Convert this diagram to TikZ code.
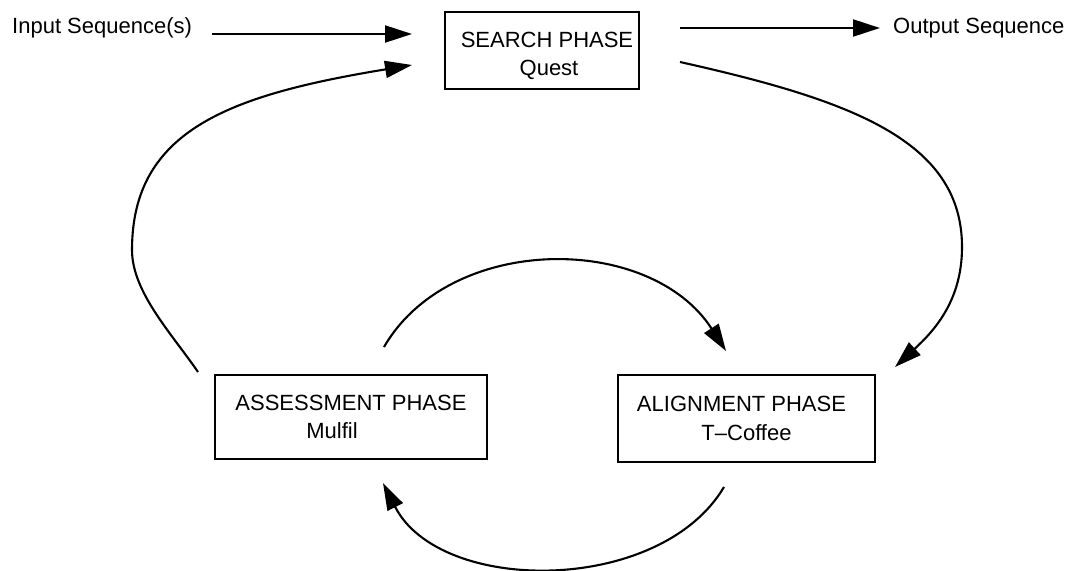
\documentclass[tikz,border=0pt]{standalone}
\usepackage{fontspec}
\setmainfont{Liberation Sans}
\usetikzlibrary{arrows.meta}
\tikzset{
  phasebox/.style={draw, line width=1.8pt, align=center, inner sep=0pt, font=\fontsize{22}{28.5}\selectfont},
  lbl/.style={font=\fontsize{22}{28}\selectfont, inner sep=0pt},
  conn/.style={line width=2.1pt, -{Triangle[length=27pt,width=17pt]}}
}
\begin{document}
\begin{tikzpicture}[x=1pt,y=-1pt]
\useasboundingbox (0,0) rectangle (1073,570);
% boxes
\node[phasebox, minimum width=194pt, minimum height=77pt] (search) at (542,50.5) {\rule{0pt}{26pt}\hspace*{10pt}SEARCH PHASE\\\hspace*{14pt}Quest};
\node[phasebox, minimum width=272pt, minimum height=84pt] (assess) at (351,417) {ASSESSMENT PHASE\\Mulfil\hspace*{38pt}};
\node[phasebox, minimum width=257pt, minimum height=87pt] (align) at (746.5,418.5) {ALIGNMENT PHASE\hspace*{10pt}\\T--Coffee};
% labels
\node[lbl, anchor=base west] (input) at (12,33) {Input Sequence(s)};
\node[lbl, anchor=base west] (output) at (893,33) {Output Sequence};
% connector ends
\coordinate (inS) at (212,34);
\coordinate (inE) at (412,34);
\coordinate (outS) at (680,28);
\coordinate (outE) at (880,28);
\coordinate (lS) at (198,372);
\coordinate (lM) at (132,250);
\coordinate (lE) at (412,65);
\coordinate (rS) at (680,62);
\coordinate (rM) at (962,247);
\coordinate (rE) at (895,367);
\coordinate (tS) at (384,347);
\coordinate (tE) at (726,351);
\coordinate (bS) at (724,487);
\coordinate (bE) at (383,483);
% straight arrows
\draw[conn] (inS) -- (inE);
\draw[conn] (outS) -- (outE);
% big loops
\draw[conn] (lS) .. controls (172,334) and (132,292) .. (lM)
  .. controls (132,130) and (230,95) .. (lE);
\draw[conn] (rS) .. controls (850,100) and (962,140) .. (rM)
  .. controls (962,300) and (935,330) .. (rE);
% small cycle
\draw[conn] (tS) .. controls (450,233) and (650,233) .. (tE);
\draw[conn] (bS) .. controls (660,595) and (440,595) .. (bE);
\end{tikzpicture}
\end{document}
